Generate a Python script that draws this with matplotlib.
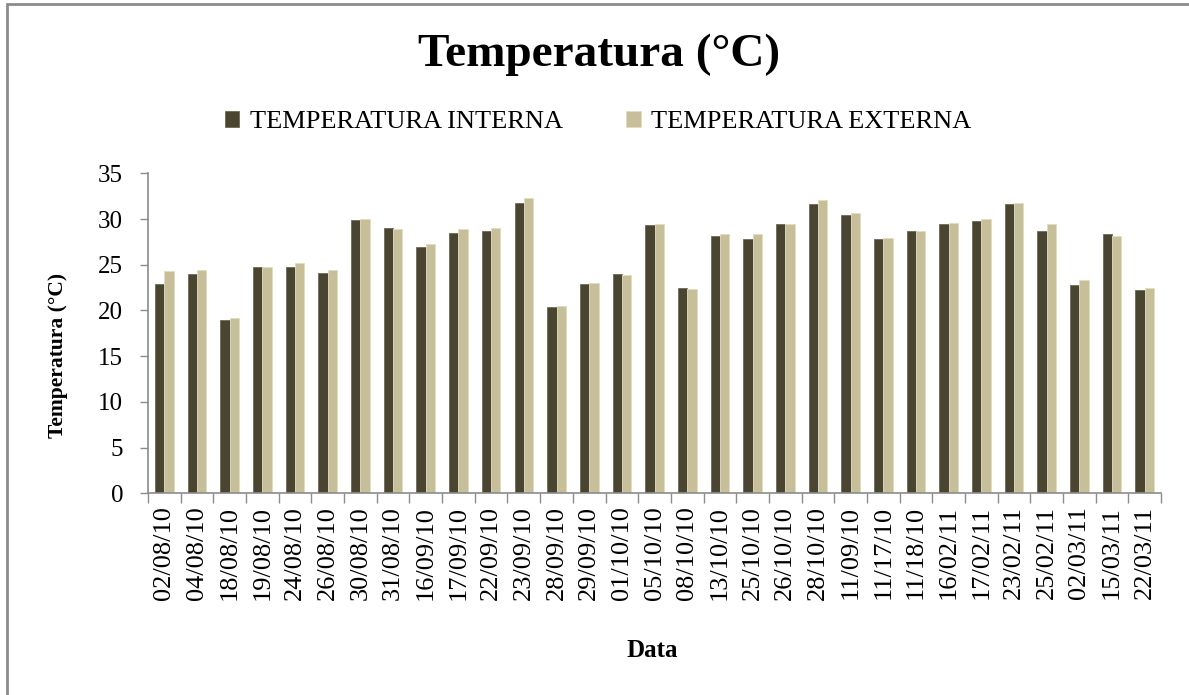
import numpy as np
import matplotlib
matplotlib.use("Agg")
import matplotlib.pyplot as plt
from matplotlib.patches import Rectangle

# sampling dates
datas = ["02/08/10", "04/08/10", "18/08/10", "19/08/10", "24/08/10", "26/08/10",
         "30/08/10", "31/08/10", "16/09/10", "17/09/10", "22/09/10", "23/09/10",
         "28/09/10", "29/09/10", "01/10/10", "05/10/10", "08/10/10", "13/10/10",
         "25/10/10", "26/10/10", "28/10/10", "11/09/10", "11/17/10", "11/18/10",
         "16/02/11", "17/02/11", "23/02/11", "25/02/11", "02/03/11", "15/03/11",
         "22/03/11"]

# temperatures (°C)
temp_interna = [22.9, 24.0, 19.0, 24.8, 24.7, 24.1, 29.9, 29.0, 26.9, 28.5,
                28.7, 31.8, 20.4, 22.9, 24.0, 29.3, 22.5, 28.1, 27.8, 29.5,
                31.6, 30.4, 27.8, 28.7, 29.5, 29.8, 31.7, 28.7, 22.8, 28.4,
                22.2]
temp_externa = [24.3, 24.4, 19.2, 24.8, 25.2, 24.4, 30.0, 28.9, 27.3, 28.9,
                29.0, 32.3, 20.5, 23.0, 23.9, 29.5, 22.3, 28.4, 28.4, 29.5,
                32.1, 30.7, 27.9, 28.7, 29.6, 30.0, 31.8, 29.5, 23.3, 28.2,
                22.5]

cor_interna = "#4a4530"
cor_externa = "#c7bf99"
cinza = "#8c8c8c"

plt.rcParams["font.family"] = ["Liberation Serif", "DejaVu Serif"]

fig = plt.figure(figsize=(11.89, 6.95), dpi=100)
ax = fig.add_axes([0.1245, 0.2902, 0.852, 0.4604])

x = np.arange(len(datas))
w = 0.285
b1 = ax.bar(x - w / 2, temp_interna, w, color=cor_interna,
            edgecolor="#6e6a55", linewidth=0.6, label="TEMPERATURA INTERNA")
b2 = ax.bar(x + w / 2, temp_externa, w, color=cor_externa,
            edgecolor="#e2ddc0", linewidth=0.6, label="TEMPERATURA EXTERNA")

ax.set_xlim(-0.5, len(datas) - 0.5)
ax.set_ylim(0, 35)
ax.set_yticks(np.arange(0, 36, 5))

# category ticks sit on the boundaries between dates
ax.set_xticks(np.arange(-0.5, len(datas), 1.0))
ax.set_xticklabels([])
ax.set_xticks(x, minor=True)
ax.set_xticklabels(datas, minor=True, rotation=90, fontsize=19)
ax.tick_params(axis="x", which="major", length=7, width=1, color=cinza,
               direction="out")
ax.tick_params(axis="x", which="minor", length=0, pad=9)
ax.tick_params(axis="y", length=6, width=1, color=cinza, direction="out",
               labelsize=18, pad=12)

for s in ["top", "right"]:
    ax.spines[s].set_visible(False)
for s in ["left", "bottom"]:
    ax.spines[s].set_color(cinza)
    ax.spines[s].set_linewidth(1.2)

ax.set_ylabel("Temperatura (°C)", fontsize=15.5, fontweight="bold")
ax.yaxis.set_label_coords(-0.079, 0.43)
ax.yaxis.label.set_ha("center")
ax.set_xlabel("Data", fontsize=18, fontweight="bold")
ax.xaxis.set_label_coords(0.4975, -0.49)
ax.xaxis.label.set_va("center")

fig.text(0.504, 1 - 55 / 695, "Temperatura (°C)", ha="center", va="center",
         fontsize=34, fontweight="bold")

fig.legend(handles=[b1, b2], loc="center", bbox_to_anchor=(0.503, 1 - 122 / 695),
           ncol=2, frameon=False, fontsize=19, handlelength=0.55,
           handleheight=0.55, handletextpad=0.4, columnspacing=2.4)

# chart area border
fig.patches.append(Rectangle((7 / 1189, -0.2), 1.3, 1.2 - 4 / 695,
                             transform=fig.transFigure, fill=False,
                             edgecolor=cinza, linewidth=2))

fig.savefig("out.png", dpi=100)
